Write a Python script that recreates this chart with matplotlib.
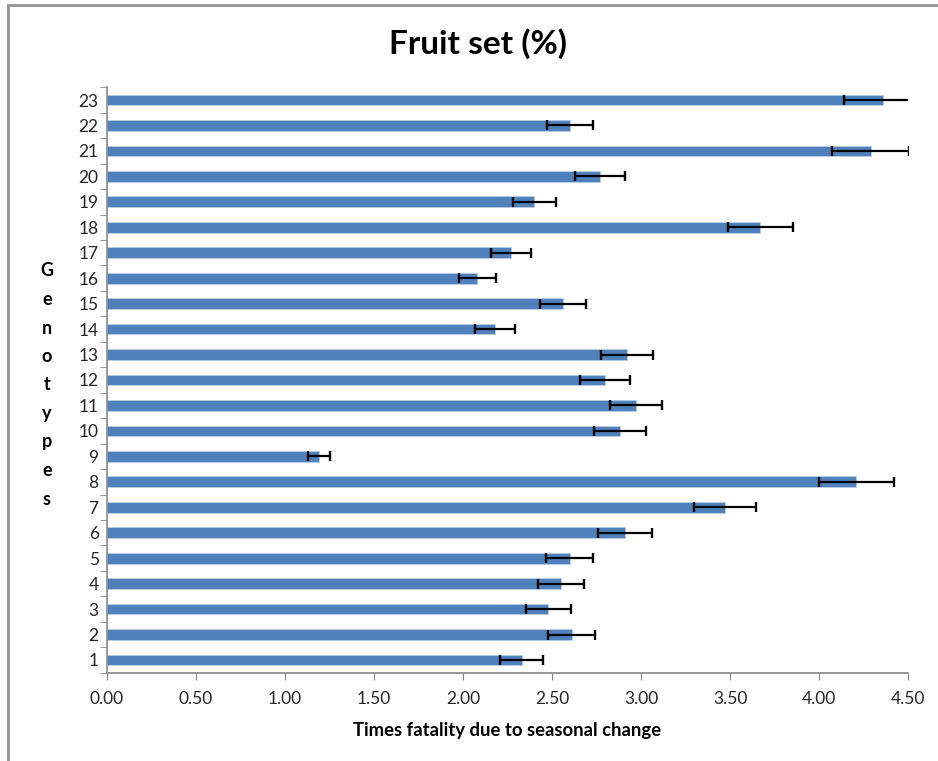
import numpy as np
import matplotlib
matplotlib.use("Agg")
import matplotlib.pyplot as plt
from matplotlib.patches import Rectangle

plt.rcParams['font.family'] = ['Lato', 'DejaVu Sans']

# genotype numbers, mean fruit set and error
genotypes = list(range(1, 24))
values = [2.33, 2.61, 2.48, 2.55, 2.60, 2.91, 3.47, 4.21, 1.19, 2.88,
          2.97, 2.80, 2.92, 2.18, 2.56, 2.08, 2.27, 3.67, 2.40, 2.77,
          4.29, 2.60, 4.36]
errors = [0.12, 0.13, 0.127, 0.13, 0.132, 0.149, 0.174, 0.21, 0.062, 0.146,
          0.146, 0.14, 0.147, 0.11, 0.13, 0.105, 0.114, 0.184, 0.12, 0.14,
          0.215, 0.13, 0.22]
xticks = np.arange(0, 4.51, 0.5)

title = "Fruit set (%)"
xlabel = "Times fatality due to seasonal change"
ylabel = "Genotypes"

W, H = 938, 761
fig = plt.figure(figsize=(W / 100, H / 100), dpi=100)

# outer chart frame (only left and top edge visible)
fig.patches.append(Rectangle((8 / W, -0.1), 1.2, 1 - 5 / H + 0.1,
                             transform=fig.transFigure, fill=False,
                             edgecolor='#999999', linewidth=2.2))

ax = fig.add_axes([107 / W, 1 - 672.7 / H, (908 - 107) / W, (672.7 - 87.3) / H])

ax.barh(genotypes, values, height=0.42, color='#4F81BD',
        edgecolor='#b9cde5', linewidth=0.6)
ax.errorbar(values, genotypes, xerr=errors, fmt='none', ecolor='black',
            elinewidth=1.6, capsize=3.8, capthick=1.7)

ax.set_xlim(0, 4.5)
ax.set_ylim(0.5, 23.5)
ax.set_xticks(xticks)
ax.set_xticklabels(["%.2f" % t for t in xticks], fontsize=12.5, color='#262626')
ax.set_yticks(genotypes)
ax.set_yticklabels([str(g) for g in genotypes], fontsize=12.5, color='#262626')
ax.set_yticks(np.arange(0.5, 24, 1), minor=True)
ax.tick_params(axis='y', which='major', length=0, pad=6)
ax.tick_params(axis='y', which='minor', length=5, color='#868686')
ax.tick_params(axis='x', length=5, color='#868686', pad=8)

for s in ['top', 'right']:
    ax.spines[s].set_visible(False)
for s in ['left', 'bottom']:
    ax.spines[s].set_color('#868686')
    ax.spines[s].set_linewidth(1.2)

ax.set_xlabel(xlabel, fontsize=13.3, fontweight='bold', labelpad=11)

fig.text(478 / W, 1 - 44 / H, title, fontsize=24, fontweight='bold',
         ha='center', va='center')

# vertical stacked letters for the y label
y0, y1 = 271, 499
step = (y1 - y0) / (len(ylabel) - 1)
for i, ch in enumerate(ylabel):
    fig.text(47 / W, 1 - (y0 + i * step) / H, ch, fontsize=13,
             fontweight='bold', ha='center', va='center')

fig.savefig("out.png", dpi=100)
